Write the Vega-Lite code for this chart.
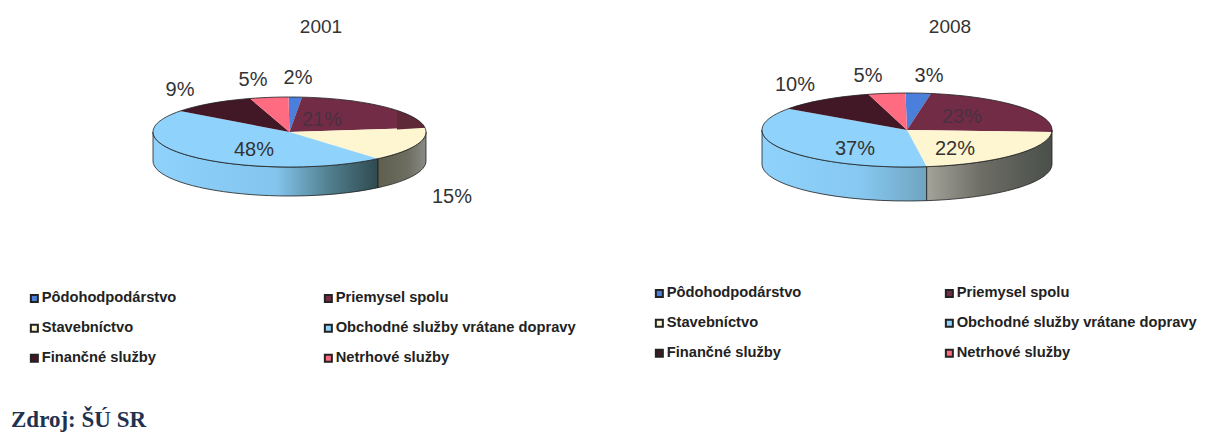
{
"$schema":"https://vega.github.io/schema/vega-lite/v6.json",
"background":"white",
"padding":{"top":18,"left":0,"right":0,"bottom":0},
"spacing":0,
"config":{"view":{"stroke":null},"concat":{"spacing":0},"font":"Liberation Sans"},
"resolve":{"scale":{"shape":"independent","color":"independent"},"legend":{"color":"independent","shape":"independent"}},
"title":{"text":"Zdroj: ŠÚ SR","orient":"bottom","anchor":"start","frame":"group","font":"Liberation Serif","fontSize":23,"fontWeight":"bold","color":"#1f3350","dx":11,"offset":4},
"hconcat":[
{"width":603,"height":364,
"title":{"text":"2001","anchor":"middle","dx":19.5,"font":"Liberation Sans","fontSize":19,"fontWeight":"normal","color":"#333333","offset":4},
"data":{"values":[
{"sector":"Pôdohodpodárstvo","share":0.02},
{"sector":"Priemysel spolu","share":0.21},
{"sector":"Stavebníctvo","share":0.15},
{"sector":"Obchodné služby vrátane dopravy","share":0.48},
{"sector":"Finančné služby","share":0.09},
{"sector":"Netrhové služby","share":0.05}]},
"layer":[
{"transform":[{"filter":"datum.sector==='Obchodné služby vrátane dopravy'"}],
"mark":{"type":"point","filled":true,"opacity":1,"size":4,"xOffset":-12,"yOffset":-91,"shape":"M88.5,26.65A136.5,35 0 0,1 -136.5,0L-136.5,29A136.5,35 0 0,0 88.5,55.65Z","stroke":"#1e1e1e","strokeWidth":0.8,"fill":{"gradient":"linear","x1":0,"x2":1,"y1":0,"y2":0,"stops":[{"offset":0,"color":"#8fd2fc"},{"offset":0.55,"color":"#82c4ec"},{"offset":0.78,"color":"#52808f"},{"offset":1,"color":"#2f4a50"}]}}},
{"transform":[{"filter":"datum.sector==='Stavebníctvo'"}],
"mark":{"type":"point","filled":true,"opacity":1,"size":4,"xOffset":-12,"yOffset":-91,"shape":"M136.5,0A136.5,35 0 0,1 88.5,26.65L88.5,55.65A136.5,35 0 0,0 136.5,29Z","stroke":"#1e1e1e","strokeWidth":0.8,"fill":{"gradient":"linear","x1":0,"x2":1,"y1":0,"y2":0,"stops":[{"offset":0,"color":"#5f5f4f"},{"offset":0.6,"color":"#6c6c60"},{"offset":1,"color":"#8a8a86"}]}}},
{"mark":{"type":"point","filled":true,"opacity":1,"size":4,"xOffset":-12,"yOffset":-91},
"encoding":{
"color":{"field":"sector","type":"nominal","sort":null,
"scale":{"domain":["Pôdohodpodárstvo","Priemysel spolu","Stavebníctvo","Obchodné služby vrátane dopravy","Finančné služby","Netrhové služby"],"range":["#4a7fdc","#732c45","#fdf6d0","#8fd2fc","#431826","#ff6b80"]},
"legend":{"title":null,"orient":"none","legendX":27,"legendY":250,"columns":2,"direction":"horizontal","symbolType":"square","symbolSize":49,"symbolStrokeColor":"#222222","symbolStrokeWidth":2,"labelFont":"Liberation Sans","labelFontWeight":"bold","labelFontSize":14.7,"labelColor":"#222222","labelLimit":300,"labelOffset":0,"columnPadding":143,"rowPadding":14,"encode":{"symbols":{"update":{"shape":{"value":"square"},"size":{"value":49}}}}}},
"shape":{"field":"share","type":"nominal","legend":null,
"scale":{"domain":[0.02,0.21,0.15,0.48,0.09,0.05],
"range":["M0,0L-1,-35A136.5,35 0 0,1 12.5,-34.85Z","M0,0L12.5,-34.85A136.5,35 0 0,1 135.5,-4.23Z","M0,0L135.5,-4.23A136.5,35 0 0,1 88.5,26.65Z","M0,0L88.5,26.65A136.5,35 0 0,1 0,35A136.5,35 0 0,1 -136.5,0A136.5,35 0 0,1 -109.5,-20.9Z","M0,0L-109.5,-20.9A136.5,35 0 0,1 -39.5,-33.5Z","M0,0L-39.5,-33.5A136.5,35 0 0,1 -1,-35Z"]}}}},
{"transform":[{"filter":"datum.sector==='Priemysel spolu'"}],
"mark":{"type":"point","filled":true,"opacity":1,"size":4,"xOffset":-12,"yOffset":-91,"shape":"M107.5,-21.6A136.5,35 0 0,1 135.5,-4.23L107.5,-2.6Z","fill":"#5e2a38"}},
{"transform":[{"filter":"datum.sector==='Priemysel spolu'"}],
"mark":{"type":"point","filled":false,"opacity":1,"size":4,"xOffset":-12,"yOffset":-91,"shape":"M-136.5,0A136.5,35 0 1,1 136.5,0A136.5,35 0 1,1 -136.5,0Z","stroke":"#1e1e1e","strokeWidth":0.8}},
{"transform":[{"filter":"datum.sector==='Pôdohodpodárstvo'"}],"mark":{"type":"text","fontSize":20,"color":"#333333","dx":-3.5,"dy":-145},"encoding":{"text":{"field":"share","type":"quantitative","format":".0%"}}},
{"transform":[{"filter":"datum.sector==='Netrhové služby'"}],"mark":{"type":"text","fontSize":20,"color":"#333333","dx":-48.5,"dy":-143},"encoding":{"text":{"field":"share","type":"quantitative","format":".0%"}}},
{"transform":[{"filter":"datum.sector==='Finančné služby'"}],"mark":{"type":"text","fontSize":20,"color":"#333333","dx":-121.5,"dy":-133},"encoding":{"text":{"field":"share","type":"quantitative","format":".0%"}}},
{"transform":[{"filter":"datum.sector==='Priemysel spolu'"}],"mark":{"type":"text","fontSize":20,"color":"#4a3040","dx":20.5,"dy":-103},"encoding":{"text":{"field":"share","type":"quantitative","format":".0%"}}},
{"transform":[{"filter":"datum.sector==='Obchodné služby vrátane dopravy'"}],"mark":{"type":"text","fontSize":20,"color":"#333333","dx":-47.5,"dy":-73},"encoding":{"text":{"field":"share","type":"quantitative","format":".0%"}}},
{"transform":[{"filter":"datum.sector==='Stavebníctvo'"}],"mark":{"type":"text","fontSize":20,"color":"#333333","dx":150.5,"dy":-26},"encoding":{"text":{"field":"share","type":"quantitative","format":".0%"}}}
]},
{"width":603,"height":364,
"title":{"text":"2008","anchor":"middle","dx":45.5,"font":"Liberation Sans","fontSize":19,"fontWeight":"normal","color":"#333333","offset":4},
"data":{"values":[
{"sector":"Pôdohodpodárstvo","share":0.03},
{"sector":"Priemysel spolu","share":0.23},
{"sector":"Stavebníctvo","share":0.22},
{"sector":"Obchodné služby vrátane dopravy","share":0.37},
{"sector":"Finančné služby","share":0.10},
{"sector":"Netrhové služby","share":0.05}]},
"layer":[
{"transform":[{"filter":"datum.sector==='Obchodné služby vrátane dopravy'"}],
"mark":{"type":"point","filled":true,"opacity":1,"size":4,"xOffset":2.5,"yOffset":-93,"shape":"M19.7,36.66A145,37 0 0,1 -145,0L-145,34A145,37 0 0,0 19.7,70.66Z","stroke":"#1e1e1e","strokeWidth":0.8,"fill":{"gradient":"linear","x1":0,"x2":1,"y1":0,"y2":0,"stops":[{"offset":0,"color":"#8fd2fc"},{"offset":0.6,"color":"#86c8f0"},{"offset":1,"color":"#6fa4c0"}]}}},
{"transform":[{"filter":"datum.sector==='Stavebníctvo'"}],
"mark":{"type":"point","filled":true,"opacity":1,"size":4,"xOffset":2.5,"yOffset":-93,"shape":"M145,0A145,37 0 0,1 19.7,36.66L19.7,70.66A145,37 0 0,0 145,34Z","stroke":"#1e1e1e","strokeWidth":0.8,"fill":{"gradient":"linear","x1":0,"x2":1,"y1":0,"y2":0,"stops":[{"offset":0,"color":"#a3a39a"},{"offset":0.45,"color":"#6c6c64"},{"offset":1,"color":"#4a4f4a"}]}}},
{"mark":{"type":"point","filled":true,"opacity":1,"size":4,"xOffset":2.5,"yOffset":-93},
"encoding":{
"color":{"field":"sector","type":"nominal","sort":null,
"scale":{"domain":["Pôdohodpodárstvo","Priemysel spolu","Stavebníctvo","Obchodné služby vrátane dopravy","Finančné služby","Netrhové služby"],"range":["#4a7fdc","#732c45","#fdf6d0","#8fd2fc","#431826","#ff6b80"]},
"legend":{"title":null,"orient":"none","legendX":49,"legendY":245,"columns":2,"direction":"horizontal","symbolType":"square","symbolSize":49,"symbolStrokeColor":"#222222","symbolStrokeWidth":2,"labelFont":"Liberation Sans","labelFontWeight":"bold","labelFontSize":14.7,"labelColor":"#222222","labelLimit":300,"labelOffset":0,"columnPadding":139,"rowPadding":14,"encode":{"symbols":{"update":{"shape":{"value":"square"},"size":{"value":49}}}}}},
"shape":{"field":"share","type":"nominal","legend":null,
"scale":{"domain":[0.03,0.23,0.22,0.37,0.10,0.05],
"range":["M0,0L-1.5,-37A145,37 0 0,1 24,-36.49Z","M0,0L24,-36.49A145,37 0 0,1 144.8,1.94Z","M0,0L144.8,1.94A145,37 0 0,1 19.7,36.66Z","M0,0L19.7,36.66A145,37 0 0,1 -145,0A145,37 0 0,1 -118.7,-21.25Z","M0,0L-118.7,-21.25A145,37 0 0,1 -38.7,-35.66Z","M0,0L-38.7,-35.66A145,37 0 0,1 -1.5,-37Z"]}}}},
{"transform":[{"filter":"datum.sector==='Priemysel spolu'"}],
"mark":{"type":"point","filled":false,"opacity":1,"size":4,"xOffset":2.5,"yOffset":-93,"shape":"M-145,0A145,37 0 1,1 145,0A145,37 0 1,1 -145,0Z","stroke":"#1e1e1e","strokeWidth":0.8}},
{"transform":[{"filter":"datum.sector==='Pôdohodpodárstvo'"}],"mark":{"type":"text","fontSize":20,"color":"#333333","dx":24.5,"dy":-147},"encoding":{"text":{"field":"share","type":"quantitative","format":".0%"}}},
{"transform":[{"filter":"datum.sector==='Netrhové služby'"}],"mark":{"type":"text","fontSize":20,"color":"#333333","dx":-36.5,"dy":-147},"encoding":{"text":{"field":"share","type":"quantitative","format":".0%"}}},
{"transform":[{"filter":"datum.sector==='Finančné služby'"}],"mark":{"type":"text","fontSize":20,"color":"#333333","dx":-109.5,"dy":-138},"encoding":{"text":{"field":"share","type":"quantitative","format":".0%"}}},
{"transform":[{"filter":"datum.sector==='Priemysel spolu'"}],"mark":{"type":"text","fontSize":20,"color":"#4a3040","dx":57.5,"dy":-106},"encoding":{"text":{"field":"share","type":"quantitative","format":".0%"}}},
{"transform":[{"filter":"datum.sector==='Obchodné služby vrátane dopravy'"}],"mark":{"type":"text","fontSize":20,"color":"#333333","dx":-49.5,"dy":-74},"encoding":{"text":{"field":"share","type":"quantitative","format":".0%"}}},
{"transform":[{"filter":"datum.sector==='Stavebníctvo'"}],"mark":{"type":"text","fontSize":20,"color":"#333333","dx":50.5,"dy":-74},"encoding":{"text":{"field":"share","type":"quantitative","format":".0%"}}}
]}
]}
